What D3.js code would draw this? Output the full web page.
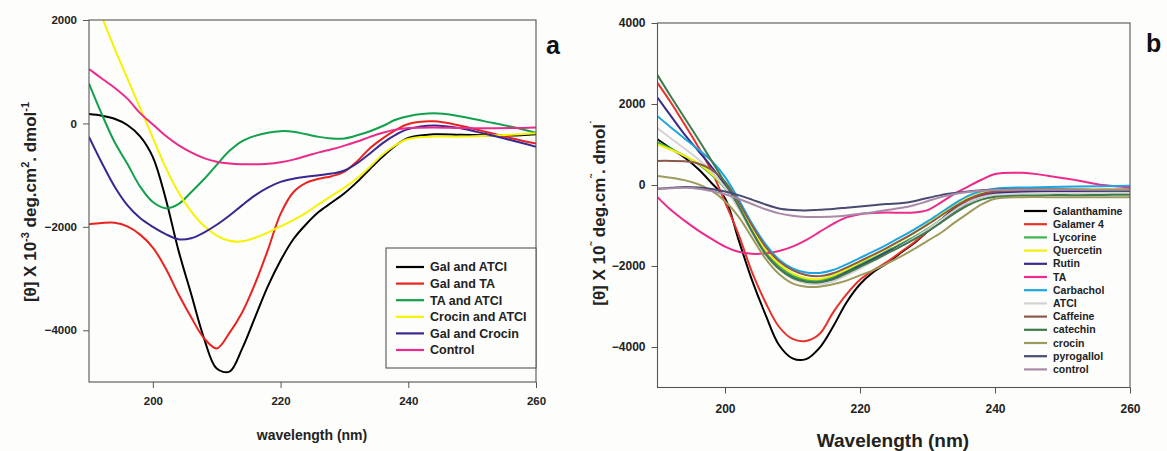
<!DOCTYPE html>
<html>
<head>
<meta charset="utf-8">
<script src="https://cdn.jsdelivr.net/npm/d3@7/dist/d3.min.js"></script>
<style>
  html, body { margin: 0; padding: 0; background: #fdfdfb; }
  svg { display: block; font-family: "Liberation Sans", Arial, sans-serif; }
  .tick text { font-weight: bold; fill: #222; }
</style>
</head>
<body>
<svg id="chart" width="1167" height="451"></svg>
<script>
// ---------- DATA ----------
const wavelengths = [190,192,194,196,198,200,202,204,206,208,210,212,214,216,218,220,222,224,226,228,230,232,234,236,238,240,244,248,252,256,260];
const xTicks = [200, 220, 240, 260];
const yTicksA = [2000, 0, -2000, -4000];
const yTicksB = [4000, 2000, 0, -2000, -4000];

// Panel a
const galAtci    = [180,150,90,-30,-250,-650,-1450,-2450,-3300,-4150,-4740,-4800,-4350,-3750,-3150,-2650,-2240,-1950,-1710,-1530,-1350,-1130,-880,-640,-430,-280,-210,-220,-230,-235,-210];
const galTa      = [-1950,-1925,-1920,-1990,-2150,-2400,-2800,-3300,-3750,-4150,-4350,-4050,-3650,-3100,-2450,-1750,-1330,-1150,-1070,-1020,-930,-730,-480,-290,-130,-10,40,-40,-160,-280,-390];
const taAtci     = [770,180,-360,-780,-1220,-1520,-1640,-1560,-1330,-1080,-800,-530,-340,-240,-180,-150,-160,-210,-260,-290,-290,-230,-150,-50,70,140,195,140,40,-60,-180];
const crocinAtci = [2650,2060,1450,870,300,-280,-850,-1330,-1700,-1980,-2170,-2270,-2280,-2210,-2110,-1990,-1870,-1730,-1560,-1400,-1240,-1060,-840,-600,-420,-300,-255,-255,-240,-220,-190];
const galCrocin  = [-260,-760,-1220,-1580,-1830,-2000,-2140,-2240,-2220,-2110,-1960,-1780,-1580,-1390,-1240,-1130,-1070,-1030,-1000,-970,-910,-770,-580,-380,-220,-110,-40,-90,-200,-320,-450];
const controlA   = [1050,870,690,480,200,-20,-240,-420,-560,-670,-740,-775,-790,-790,-780,-750,-700,-630,-560,-500,-430,-350,-260,-180,-120,-90,-80,-90,-95,-90,-80];
const namesA  = ["Gal and ATCI","Gal and TA","TA and ATCI","Crocin and ATCI","Gal and Crocin","Control"];
const colorsA = ["#000000","#e8231f","#12a04c","#f7f300","#3a2790","#ec2a8b"];

// Panel b
const galanthamine = [1130,900,680,400,50,-330,-1350,-2350,-3200,-3950,-4280,-4300,-4020,-3500,-2900,-2450,-2150,-1930,-1680,-1440,-1150,-860,-580,-380,-250,-200,-180,-180,-180,-180,-170];
const galamer4     = [2520,2030,1500,950,350,-420,-1220,-2150,-2900,-3500,-3800,-3850,-3680,-3150,-2700,-2340,-2100,-1900,-1660,-1420,-1150,-870,-600,-390,-260,-200,-170,-170,-165,-160,-150];
const lycorine     = [1050,900,720,520,250,-80,-560,-1150,-1650,-2000,-2230,-2340,-2350,-2270,-2120,-1960,-1800,-1630,-1460,-1280,-1080,-860,-620,-420,-290,-220,-190,-185,-180,-175,-170];
const quercetin    = [1000,870,720,540,280,-50,-520,-1100,-1600,-1950,-2180,-2300,-2320,-2230,-2080,-1910,-1740,-1560,-1380,-1180,-960,-720,-480,-290,-170,-120,-100,-100,-100,-100,-100];
const rutin        = [2160,1700,1250,850,450,0,-550,-1150,-1700,-2060,-2280,-2390,-2400,-2320,-2160,-2000,-1830,-1660,-1490,-1310,-1110,-880,-640,-430,-290,-210,-170,-160,-150,-140,-130];
const ta           = [-300,-620,-880,-1120,-1330,-1520,-1650,-1700,-1690,-1630,-1520,-1360,-1160,-960,-800,-720,-690,-680,-685,-680,-620,-430,-220,-40,130,270,300,225,120,0,-60];
const carbachol    = [1700,1420,1150,880,600,200,-350,-950,-1460,-1840,-2060,-2160,-2170,-2100,-1960,-1800,-1640,-1470,-1290,-1100,-900,-680,-460,-270,-150,-90,-60,-50,-40,-30,-20];
const atcl         = [1400,1150,900,640,330,-60,-580,-1170,-1700,-2080,-2320,-2430,-2450,-2380,-2230,-2060,-1880,-1700,-1510,-1310,-1100,-870,-630,-430,-300,-240,-210,-200,-200,-200,-200];
const caffeine     = [595,595,585,530,380,80,-420,-1000,-1520,-1880,-2100,-2220,-2250,-2180,-2040,-1880,-1720,-1550,-1370,-1180,-980,-760,-540,-350,-220,-160,-130,-120,-120,-120,-110];
const catechin     = [2714,2180,1660,1140,600,60,-520,-1150,-1700,-2070,-2290,-2390,-2400,-2330,-2180,-2020,-1860,-1690,-1520,-1340,-1150,-930,-700,-500,-360,-290,-260,-250,-250,-245,-240];
const crocin       = [224,180,120,20,-140,-400,-780,-1300,-1820,-2200,-2430,-2510,-2510,-2450,-2360,-2230,-2100,-1940,-1770,-1580,-1380,-1180,-930,-700,-480,-340,-300,-300,-300,-300,-300];
const pyrogallol   = [-90,-70,-50,-60,-100,-160,-250,-360,-480,-580,-620,-630,-610,-590,-560,-530,-500,-470,-450,-400,-320,-250,-200,-160,-130,-115,-110,-110,-115,-130,-150];
const controlB     = [-90,-80,-70,-90,-150,-230,-340,-470,-600,-700,-760,-790,-790,-780,-750,-710,-670,-620,-570,-500,-400,-300,-220,-170,-140,-125,-120,-120,-120,-120,-120];
const namesB  = ["Galanthamine","Galamer 4","Lycorine","Quercetin","Rutin","TA","Carbachol","ATCI","Caffeine","catechin","crocin","pyrogallol","control"];
const colorsB = ["#000000","#e8312a","#3cb54b","#f2ee10","#3a2a8a","#ec2a8c","#1ca6df","#d3d3d3","#8a5a4a","#3f7a4a","#9c9a5c","#4a4a72","#a88aa8"];

const seriesA = [galAtci, galTa, taAtci, crocinAtci, galCrocin, controlA];
const seriesB = [galanthamine, galamer4, lycorine, quercetin, rutin, ta, carbachol, atcl, caffeine, catechin, crocin, pyrogallol, controlB];

// ---------- DRAW ----------
const svg = d3.select("#chart");

function panel(cfg) {
  const x = d3.scaleLinear().domain([190, 260]).range([cfg.left, cfg.right]);
  const y = d3.scaleLinear().domain(cfg.yDomain).range([cfg.bottom, cfg.top]);
  const g = svg.append("g");

  const clipId = "clip-" + cfg.id;
  svg.append("clipPath").attr("id", clipId).append("rect")
    .attr("x", cfg.left).attr("y", cfg.top)
    .attr("width", cfg.right - cfg.left).attr("height", cfg.bottom - cfg.top);

  const line = d3.line()
    .x(d => x(d[0])).y(d => y(d[1]))
    .curve(d3.curveCatmullRom.alpha(0.5));

  const lines = g.append("g").attr("clip-path", `url(#${clipId})`);
  cfg.series.forEach((s, i) => {
    lines.append("path")
      .datum(wavelengths.map((w, k) => [w, s[k]]))
      .attr("fill", "none")
      .attr("stroke", cfg.colors[i])
      .attr("stroke-width", cfg.lw)
      .attr("d", line);
  });

  // frame
  g.append("rect")
    .attr("x", cfg.left).attr("y", cfg.top)
    .attr("width", cfg.right - cfg.left).attr("height", cfg.bottom - cfg.top)
    .attr("fill", "none").attr("stroke", "#555").attr("stroke-width", 1.1);

  const ax = g.append("g").attr("transform", `translate(0,${cfg.bottom})`)
    .call(d3.axisBottom(x).tickValues(xTicks).tickSize(6).tickPadding(cfg.xPad).tickFormat(d3.format("d")));
  ax.select(".domain").remove();
  ax.selectAll(".tick line").attr("stroke", "#555");
  ax.selectAll(".tick text").attr("font-size", cfg.tickFont).attr("font-family", "Liberation Sans, Arial");

  const ay = g.append("g").attr("transform", `translate(${cfg.left},0)`)
    .call(d3.axisLeft(y).tickValues(cfg.yTicks).tickSize(6).tickPadding(cfg.yPad).tickFormat(d3.format("d")));
  ay.select(".domain").remove();
  ay.selectAll(".tick line").attr("stroke", "#555");
  ay.selectAll(".tick text").attr("font-size", cfg.tickFont).attr("font-family", "Liberation Sans, Arial");

  return { x, y, g };
}

// Panel a
const pa = panel({
  id: "a", left: 89, right: 536, top: 20, bottom: 382,
  yDomain: [-5000, 2000], yTicks: yTicksA, series: seriesA, colors: colorsA,
  lw: 2, tickFont: 11.5, xPad: 9, yPad: 6
});
// Panel b
const pb = panel({
  id: "b", left: 657.5, right: 1130, top: 23, bottom: 387.5,
  yDomain: [-5000, 4000], yTicks: yTicksB, series: seriesB, colors: colorsB,
  lw: 2, tickFont: 12, xPad: 11, yPad: 6
});

// Legend a
const la = svg.append("g");
la.append("rect").attr("x", 386).attr("y", 248).attr("width", 150).attr("height", 120)
  .attr("fill", "#fdfdfb").attr("stroke", "#555").attr("stroke-width", 1.1);
namesA.forEach((n, i) => {
  const yy = 267 + i * 16.6;
  la.append("line").attr("x1", 396).attr("x2", 424).attr("y1", yy).attr("y2", yy)
    .attr("stroke", colorsA[i]).attr("stroke-width", 2.2);
  la.append("text").attr("x", 430).attr("y", yy).attr("dy", "0.35em")
    .attr("font-size", 12.5).attr("font-weight", "bold").attr("fill", "#222").text(n);
});

// Legend b
const lb = svg.append("g");
namesB.forEach((n, i) => {
  const yy = 211 + i * 13.2;
  lb.append("line").attr("x1", 1024).attr("x2", 1047).attr("y1", yy).attr("y2", yy)
    .attr("stroke", colorsB[i]).attr("stroke-width", 2.2);
  lb.append("text").attr("x", 1053).attr("y", yy).attr("dy", "0.35em")
    .attr("font-size", 10.5).attr("font-weight", "bold").attr("fill", "#222").text(n);
});

// Axis titles
svg.append("text").attr("x", 312).attr("y", 440).attr("text-anchor", "middle")
  .attr("font-size", 14).attr("font-weight", "bold").attr("fill", "#222").text("wavelength (nm)");
svg.append("text").attr("x", 893).attr("y", 447).attr("text-anchor", "middle")
  .attr("font-size", 19).attr("font-weight", "bold").attr("fill", "#222").text("Wavelength (nm)");

function yTitle(cx, cy, sups) {
  const t = svg.append("text")
    .attr("transform", `translate(${cx},${cy}) rotate(-90)`)
    .attr("text-anchor", "middle")
    .attr("font-size", 17).attr("font-weight", "bold").attr("fill", "#222");
  t.append("tspan").text("[θ] X 10");
  t.append("tspan").attr("dy", -7).attr("font-size", 11).text(sups[0]);
  t.append("tspan").attr("dy", 7).text(" deg.cm");
  t.append("tspan").attr("dy", -7).attr("font-size", 11).text(sups[1]);
  t.append("tspan").attr("dy", 7).text(". dmol");
  t.append("tspan").attr("dy", -7).attr("font-size", 11).text(sups[2]);
}
yTitle(36, 202, ["-3", "2", "-1"]);
yTitle(605, 213, ["˜", "˜", "˙"]);

// Panel labels
svg.append("text").attr("x", 546).attr("y", 54).attr("font-size", 25).attr("font-weight", "bold").attr("fill", "#111").text("a");
svg.append("text").attr("x", 1146).attr("y", 52).attr("font-size", 25).attr("font-weight", "bold").attr("fill", "#111").text("b");
</script>
</body>
</html>
